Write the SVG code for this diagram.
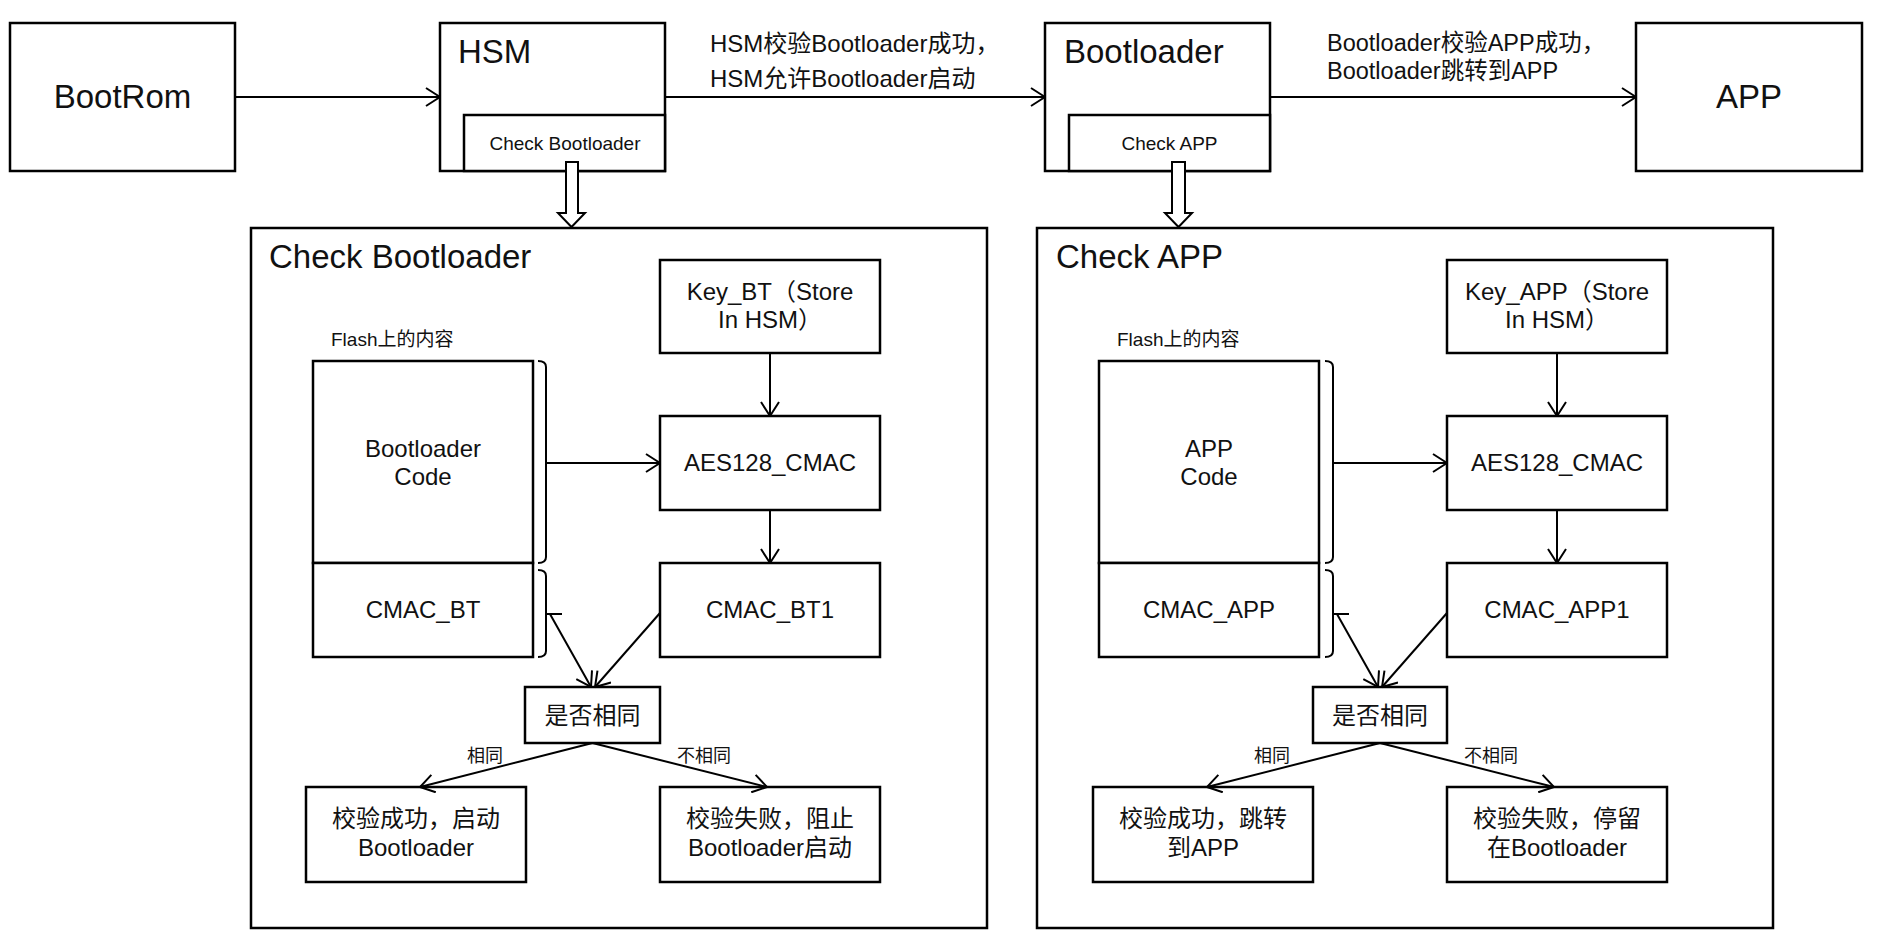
<svg xmlns="http://www.w3.org/2000/svg" width="1894" height="951" viewBox="0 0 1894 951">
<defs>
<style>
.box{fill:#fff;stroke:#000;stroke-width:2.5}
.frame{fill:none;stroke:#000;stroke-width:2.5}
.ln{fill:none;stroke:#000;stroke-width:2}
.blk{fill:#fff;stroke:#000;stroke-width:2}
.t{font-family:"Liberation Sans","Noto Sans CJK SC",Arial,sans-serif;fill:#111}
.c{text-anchor:middle}
.f33{font-size:33px}
.f24{font-size:24px}
.f235{font-size:23.5px}
.f19{font-size:19px}
.f18{font-size:18px}
</style>
<marker id="arr" markerUnits="userSpaceOnUse" viewBox="0 0 16 20" refX="15" refY="10" markerWidth="16" markerHeight="20" orient="auto"><path d="M1,1 L15,10 L1,19" fill="none" stroke="#000" stroke-width="2"/></marker>
</defs>
<rect x="0" y="0" width="1894" height="951" fill="#fff"/>

<g id="frame-check-bootloader">
<rect class="frame" x="251" y="228" width="736" height="700"/>
<text class="t f33" x="269" y="268">Check Bootloader</text>
</g>
<g id="frame-check-app">
<rect class="frame" x="1037" y="228" width="736" height="700"/>
<text class="t f33" x="1056" y="268">Check APP</text>
</g>

<g id="bootrom">
<rect class="box" x="10" y="23" width="225" height="148"/>
<text class="t f33 c" x="122.5" y="108">BootRom</text>
</g>
<g id="hsm">
<rect class="box" x="440" y="23" width="225" height="148"/>
<text class="t f33" x="458" y="63">HSM</text>
<rect class="box" x="464" y="115" width="201" height="56"/>
<text class="t f19 c" x="565" y="150">Check Bootloader</text>
</g>
<g id="bootloader">
<rect class="box" x="1045" y="23" width="225" height="148"/>
<text class="t f33" x="1064" y="63">Bootloader</text>
<rect class="box" x="1069" y="115" width="201" height="56"/>
<text class="t f19 c" x="1169.5" y="150">Check APP</text>
</g>
<g id="app">
<rect class="box" x="1636" y="23" width="226" height="148"/>
<text class="t f33 c" x="1749" y="108">APP</text>
</g>

<!-- left detail -->
<g id="flash-label-bt"><text class="t f19" x="331" y="346">Flash上的内容</text></g>
<g id="bootloader-code">
<rect class="box" x="313" y="361" width="220" height="202"/>
<text class="t f24 c" x="423" y="457">Bootloader</text>
<text class="t f24 c" x="423" y="485">Code</text>
</g>
<g id="cmac-bt">
<rect class="box" x="313" y="563" width="220" height="94"/>
<text class="t f24 c" x="423" y="618">CMAC_BT</text>
</g>
<g id="key-bt">
<rect class="box" x="660" y="260" width="220" height="93"/>
<text class="t f24 c" x="770" y="300">Key_BT（Store</text>
<text class="t f24 c" x="770" y="328">In HSM）</text>
</g>
<g id="aes-bt">
<rect class="box" x="660" y="416" width="220" height="94"/>
<text class="t f24 c" x="770" y="471">AES128_CMAC</text>
</g>
<g id="cmac-bt1">
<rect class="box" x="660" y="563" width="220" height="94"/>
<text class="t f24 c" x="770" y="618">CMAC_BT1</text>
</g>
<g id="compare-bt">
<rect class="box" x="525" y="687" width="135" height="56"/>
<text class="t f24 c" x="592.5" y="724">是否相同</text>
</g>
<g id="ok-bt">
<rect class="box" x="306" y="787" width="220" height="95"/>
<text class="t f24 c" x="416" y="827">校验成功，启动</text>
<text class="t f24 c" x="416" y="856">Bootloader</text>
</g>
<g id="fail-bt">
<rect class="box" x="660" y="787" width="220" height="95"/>
<text class="t f24 c" x="770" y="827">校验失败，阻止</text>
<text class="t f24 c" x="770" y="856">Bootloader启动</text>
</g>

<!-- right detail -->
<g id="flash-label-app"><text class="t f19" x="1117" y="346">Flash上的内容</text></g>
<g id="app-code">
<rect class="box" x="1099" y="361" width="220" height="202"/>
<text class="t f24 c" x="1209" y="457">APP</text>
<text class="t f24 c" x="1209" y="485">Code</text>
</g>
<g id="cmac-app">
<rect class="box" x="1099" y="563" width="220" height="94"/>
<text class="t f24 c" x="1209" y="618">CMAC_APP</text>
</g>
<g id="key-app">
<rect class="box" x="1447" y="260" width="220" height="93"/>
<text class="t f24 c" x="1557" y="300">Key_APP（Store</text>
<text class="t f24 c" x="1557" y="328">In HSM）</text>
</g>
<g id="aes-app">
<rect class="box" x="1447" y="416" width="220" height="94"/>
<text class="t f24 c" x="1557" y="471">AES128_CMAC</text>
</g>
<g id="cmac-app1">
<rect class="box" x="1447" y="563" width="220" height="94"/>
<text class="t f24 c" x="1557" y="618">CMAC_APP1</text>
</g>
<g id="compare-app">
<rect class="box" x="1313" y="687" width="134" height="56"/>
<text class="t f24 c" x="1380" y="724">是否相同</text>
</g>
<g id="ok-app">
<rect class="box" x="1093" y="787" width="220" height="95"/>
<text class="t f24 c" x="1203" y="827">校验成功，跳转</text>
<text class="t f24 c" x="1203" y="856">到APP</text>
</g>
<g id="fail-app">
<rect class="box" x="1447" y="787" width="220" height="95"/>
<text class="t f24 c" x="1557" y="827">校验失败，停留</text>
<text class="t f24 c" x="1557" y="856">在Bootloader</text>
</g>

<g id="connectors">
<line class="ln" x1="235" y1="97" x2="440" y2="97" marker-end="url(#arr)"/>
<line class="ln" x1="665" y1="97" x2="1045" y2="97" marker-end="url(#arr)"/>
<line class="ln" x1="1270" y1="97" x2="1636" y2="97" marker-end="url(#arr)"/>
<text class="t f24" x="710" y="52">HSM校验Bootloader成功，</text>
<text class="t f24" x="710" y="87">HSM允许Bootloader启动</text>
<text class="t f235" x="1327" y="51">Bootloader校验APP成功，</text>
<text class="t f235" x="1327" y="79">Bootloader跳转到APP</text>

<polygon class="blk" points="566,162 578,162 578,213 585,213 571.5,227 558,213 566,213"/>
<polygon class="blk" points="1172,162 1185,162 1185,213 1192,213 1178.5,227 1165,213 1172,213"/>

<!-- left -->
<path class="ln" d="M538,361 Q546,361 546,367 L546,557 Q546,563 538,563"/>
<path class="ln" d="M538,570 Q546,570 546,576 L546,651 Q546,657 538,657 M546,614 L562,614"/>
<line class="ln" x1="546" y1="463" x2="660" y2="463" marker-end="url(#arr)"/>
<line class="ln" x1="770" y1="353" x2="770" y2="416" marker-end="url(#arr)"/>
<line class="ln" x1="770" y1="510" x2="770" y2="563" marker-end="url(#arr)"/>
<line class="ln" x1="550" y1="614" x2="591" y2="687" marker-end="url(#arr)"/>
<line class="ln" x1="660" y1="613" x2="595" y2="687" marker-end="url(#arr)"/>
<line class="ln" x1="592.5" y1="743" x2="420" y2="787" marker-end="url(#arr)"/>
<line class="ln" x1="592.5" y1="743" x2="767" y2="787" marker-end="url(#arr)"/>
<text class="t f18" x="467" y="762">相同</text>
<text class="t f18" x="677" y="762">不相同</text>

<!-- right -->
<path class="ln" d="M1325,361 Q1333,361 1333,367 L1333,557 Q1333,563 1325,563"/>
<path class="ln" d="M1325,570 Q1333,570 1333,576 L1333,651 Q1333,657 1325,657 M1333,614 L1349,614"/>
<line class="ln" x1="1333" y1="463" x2="1447" y2="463" marker-end="url(#arr)"/>
<line class="ln" x1="1557" y1="353" x2="1557" y2="416" marker-end="url(#arr)"/>
<line class="ln" x1="1557" y1="510" x2="1557" y2="563" marker-end="url(#arr)"/>
<line class="ln" x1="1337" y1="614" x2="1378" y2="687" marker-end="url(#arr)"/>
<line class="ln" x1="1447" y1="613" x2="1382" y2="687" marker-end="url(#arr)"/>
<line class="ln" x1="1380" y1="743" x2="1207" y2="787" marker-end="url(#arr)"/>
<line class="ln" x1="1380" y1="743" x2="1554" y2="787" marker-end="url(#arr)"/>
<text class="t f18" x="1254" y="762">相同</text>
<text class="t f18" x="1464" y="762">不相同</text>
</g>
</svg>
